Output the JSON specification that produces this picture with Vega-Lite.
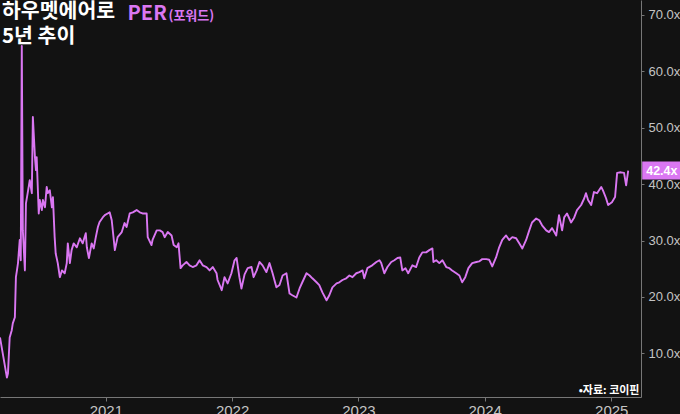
{
  "$schema": "https://vega.github.io/schema/vega-lite/v6.json",
  "width": 641,
  "height": 397,
  "autosize": {"type": "none"},
  "padding": {"left": 0, "top": 0, "right": 39, "bottom": 17},
  "background": "#121212",
  "title": {
    "text": ["하우멧에어로", "5년 추이"],
    "anchor": "start",
    "frame": "group",
    "orient": "top",
    "offset": -47,
    "dx": 2,
    "color": "#ffffff",
    "font": "Noto Sans CJK KR",
    "fontSize": 20.5,
    "fontWeight": "bold",
    "lineHeight": 25,
    "baseline": "top"
  },
  "config": {"view": {"stroke": null}, "axis": {"grid": false}},
  "datasets": {
    "per": [
      {"date": "2020-03-01", "per": 12.8},
      {"date": "2020-03-21", "per": 5.7},
      {"date": "2020-03-24", "per": 6.4},
      {"date": "2020-03-29", "per": 12.8},
      {"date": "2020-04-04", "per": 14.1},
      {"date": "2020-04-07", "per": 15.3},
      {"date": "2020-04-13", "per": 16.4},
      {"date": "2020-04-16", "per": 23.5},
      {"date": "2020-04-19", "per": 24.7},
      {"date": "2020-04-22", "per": 26.0},
      {"date": "2020-04-27", "per": 30.1},
      {"date": "2020-04-30", "per": 26.5},
      {"date": "2020-05-03", "per": 64.5},
      {"date": "2020-05-06", "per": 31.8},
      {"date": "2020-05-12", "per": 24.7},
      {"date": "2020-05-15", "per": 36.6},
      {"date": "2020-05-20", "per": 38.4},
      {"date": "2020-05-26", "per": 40.7},
      {"date": "2020-06-01", "per": 38.4},
      {"date": "2020-06-04", "per": 51.9},
      {"date": "2020-06-10", "per": 44.8},
      {"date": "2020-06-13", "per": 42.5},
      {"date": "2020-06-15", "per": 44.8},
      {"date": "2020-06-21", "per": 34.8},
      {"date": "2020-06-24", "per": 37.2},
      {"date": "2020-06-30", "per": 35.4},
      {"date": "2020-07-03", "per": 37.2},
      {"date": "2020-07-09", "per": 35.9},
      {"date": "2020-07-14", "per": 39.5},
      {"date": "2020-07-17", "per": 38.4},
      {"date": "2020-07-23", "per": 38.9},
      {"date": "2020-07-29", "per": 35.9},
      {"date": "2020-08-01", "per": 37.7},
      {"date": "2020-08-06", "per": 30.6},
      {"date": "2020-08-09", "per": 27.7},
      {"date": "2020-08-15", "per": 26.0},
      {"date": "2020-08-21", "per": 23.5},
      {"date": "2020-08-27", "per": 24.7},
      {"date": "2020-09-04", "per": 24.2},
      {"date": "2020-09-10", "per": 26.0},
      {"date": "2020-09-13", "per": 29.5},
      {"date": "2020-09-19", "per": 26.0},
      {"date": "2020-09-24", "per": 28.3},
      {"date": "2020-09-30", "per": 29.5},
      {"date": "2020-10-09", "per": 28.8},
      {"date": "2020-10-18", "per": 30.4},
      {"date": "2020-10-26", "per": 29.5},
      {"date": "2020-11-04", "per": 31.3},
      {"date": "2020-11-07", "per": 28.8},
      {"date": "2020-11-13", "per": 26.9},
      {"date": "2020-11-21", "per": 29.5},
      {"date": "2020-11-27", "per": 28.6},
      {"date": "2020-12-03", "per": 30.6},
      {"date": "2020-12-09", "per": 32.4},
      {"date": "2020-12-14", "per": 33.3},
      {"date": "2020-12-23", "per": 34.1},
      {"date": "2020-12-29", "per": 34.5},
      {"date": "2021-01-06", "per": 34.8},
      {"date": "2021-01-12", "per": 35.0},
      {"date": "2021-01-18", "per": 33.6},
      {"date": "2021-01-27", "per": 28.3},
      {"date": "2021-02-04", "per": 30.6},
      {"date": "2021-02-16", "per": 31.5},
      {"date": "2021-02-24", "per": 33.1},
      {"date": "2021-03-02", "per": 32.4},
      {"date": "2021-03-11", "per": 34.8},
      {"date": "2021-03-20", "per": 35.0},
      {"date": "2021-03-31", "per": 35.4},
      {"date": "2021-04-09", "per": 35.0},
      {"date": "2021-04-17", "per": 34.8},
      {"date": "2021-04-29", "per": 34.8},
      {"date": "2021-05-02", "per": 30.6},
      {"date": "2021-05-13", "per": 29.2},
      {"date": "2021-05-16", "per": 30.1},
      {"date": "2021-05-28", "per": 31.8},
      {"date": "2021-06-06", "per": 31.8},
      {"date": "2021-06-14", "per": 31.5},
      {"date": "2021-06-20", "per": 30.6},
      {"date": "2021-06-29", "per": 31.5},
      {"date": "2021-07-10", "per": 30.9},
      {"date": "2021-07-16", "per": 29.2},
      {"date": "2021-07-25", "per": 28.8},
      {"date": "2021-07-30", "per": 29.5},
      {"date": "2021-08-05", "per": 25.1},
      {"date": "2021-08-11", "per": 25.6},
      {"date": "2021-08-22", "per": 26.2},
      {"date": "2021-08-31", "per": 25.6},
      {"date": "2021-09-09", "per": 25.3},
      {"date": "2021-09-20", "per": 25.6},
      {"date": "2021-09-29", "per": 26.5},
      {"date": "2021-10-08", "per": 25.6},
      {"date": "2021-10-19", "per": 25.3},
      {"date": "2021-10-28", "per": 24.7},
      {"date": "2021-11-06", "per": 25.3},
      {"date": "2021-11-17", "per": 24.2},
      {"date": "2021-11-20", "per": 23.0},
      {"date": "2021-12-02", "per": 21.2},
      {"date": "2021-12-10", "per": 23.5},
      {"date": "2021-12-19", "per": 22.4},
      {"date": "2021-12-30", "per": 24.2},
      {"date": "2022-01-08", "per": 26.5},
      {"date": "2022-01-14", "per": 26.9},
      {"date": "2022-01-22", "per": 23.5},
      {"date": "2022-01-28", "per": 21.5},
      {"date": "2022-02-06", "per": 24.0},
      {"date": "2022-02-15", "per": 25.1},
      {"date": "2022-02-26", "per": 25.3},
      {"date": "2022-03-04", "per": 23.5},
      {"date": "2022-03-13", "per": 24.7},
      {"date": "2022-03-21", "per": 26.2},
      {"date": "2022-03-30", "per": 25.6},
      {"date": "2022-04-10", "per": 24.4},
      {"date": "2022-04-19", "per": 26.0},
      {"date": "2022-04-28", "per": 24.2},
      {"date": "2022-05-09", "per": 21.7},
      {"date": "2022-05-18", "per": 22.1},
      {"date": "2022-05-27", "per": 23.8},
      {"date": "2022-06-07", "per": 24.2},
      {"date": "2022-06-16", "per": 20.6},
      {"date": "2022-06-24", "per": 20.3},
      {"date": "2022-07-06", "per": 19.9},
      {"date": "2022-07-15", "per": 21.5},
      {"date": "2022-07-23", "per": 22.6},
      {"date": "2022-08-04", "per": 24.2},
      {"date": "2022-08-13", "per": 23.8},
      {"date": "2022-08-21", "per": 23.3},
      {"date": "2022-09-02", "per": 22.6},
      {"date": "2022-09-10", "per": 22.1},
      {"date": "2022-09-19", "per": 20.8},
      {"date": "2022-10-01", "per": 19.4},
      {"date": "2022-10-09", "per": 20.3},
      {"date": "2022-10-18", "per": 21.7},
      {"date": "2022-10-30", "per": 22.4},
      {"date": "2022-11-07", "per": 22.6},
      {"date": "2022-11-16", "per": 23.0},
      {"date": "2022-11-27", "per": 23.3},
      {"date": "2022-12-06", "per": 23.8},
      {"date": "2022-12-15", "per": 23.5},
      {"date": "2022-12-26", "per": 24.2},
      {"date": "2023-01-04", "per": 24.4},
      {"date": "2023-01-13", "per": 24.7},
      {"date": "2023-01-18", "per": 23.3},
      {"date": "2023-01-27", "per": 25.1},
      {"date": "2023-02-10", "per": 25.6},
      {"date": "2023-02-22", "per": 26.2},
      {"date": "2023-03-03", "per": 26.5},
      {"date": "2023-03-08", "per": 26.0},
      {"date": "2023-03-17", "per": 24.2},
      {"date": "2023-03-26", "per": 25.3},
      {"date": "2023-04-06", "per": 26.2},
      {"date": "2023-04-15", "per": 26.5},
      {"date": "2023-04-24", "per": 26.9},
      {"date": "2023-05-02", "per": 27.0},
      {"date": "2023-05-08", "per": 24.7},
      {"date": "2023-05-17", "per": 25.1},
      {"date": "2023-05-25", "per": 24.2},
      {"date": "2023-06-06", "per": 25.6},
      {"date": "2023-06-17", "per": 25.3},
      {"date": "2023-06-26", "per": 27.0},
      {"date": "2023-07-05", "per": 27.9},
      {"date": "2023-07-16", "per": 27.9},
      {"date": "2023-07-25", "per": 28.3},
      {"date": "2023-08-03", "per": 28.6},
      {"date": "2023-08-06", "per": 26.2},
      {"date": "2023-08-14", "per": 26.5},
      {"date": "2023-08-23", "per": 26.0},
      {"date": "2023-09-01", "per": 26.5},
      {"date": "2023-09-12", "per": 25.3},
      {"date": "2023-09-21", "per": 25.1},
      {"date": "2023-09-29", "per": 24.7},
      {"date": "2023-10-11", "per": 24.2},
      {"date": "2023-10-20", "per": 23.8},
      {"date": "2023-10-28", "per": 22.6},
      {"date": "2023-11-06", "per": 23.5},
      {"date": "2023-11-15", "per": 25.1},
      {"date": "2023-11-26", "per": 26.0},
      {"date": "2023-12-08", "per": 26.2},
      {"date": "2023-12-16", "per": 26.3},
      {"date": "2023-12-25", "per": 26.7},
      {"date": "2024-01-06", "per": 26.7},
      {"date": "2024-01-14", "per": 26.6},
      {"date": "2024-01-23", "per": 25.4},
      {"date": "2024-02-03", "per": 27.0},
      {"date": "2024-02-12", "per": 28.8},
      {"date": "2024-02-21", "per": 30.1},
      {"date": "2024-03-03", "per": 30.9},
      {"date": "2024-03-12", "per": 30.1},
      {"date": "2024-03-21", "per": 30.6},
      {"date": "2024-04-01", "per": 30.4},
      {"date": "2024-04-10", "per": 29.5},
      {"date": "2024-04-19", "per": 28.6},
      {"date": "2024-04-30", "per": 30.1},
      {"date": "2024-05-09", "per": 31.8},
      {"date": "2024-05-17", "per": 33.2},
      {"date": "2024-05-29", "per": 33.9},
      {"date": "2024-06-07", "per": 33.6},
      {"date": "2024-06-15", "per": 32.7},
      {"date": "2024-06-27", "per": 31.8},
      {"date": "2024-07-05", "per": 31.5},
      {"date": "2024-07-14", "per": 32.2},
      {"date": "2024-07-26", "per": 30.9},
      {"date": "2024-08-03", "per": 34.5},
      {"date": "2024-08-12", "per": 31.8},
      {"date": "2024-08-18", "per": 34.1},
      {"date": "2024-08-26", "per": 34.8},
      {"date": "2024-09-07", "per": 33.2},
      {"date": "2024-09-16", "per": 34.1},
      {"date": "2024-09-24", "per": 35.4},
      {"date": "2024-10-06", "per": 36.3},
      {"date": "2024-10-15", "per": 37.5},
      {"date": "2024-10-20", "per": 38.4},
      {"date": "2024-10-26", "per": 37.2},
      {"date": "2024-11-04", "per": 36.3},
      {"date": "2024-11-12", "per": 38.6},
      {"date": "2024-11-21", "per": 38.4},
      {"date": "2024-12-03", "per": 39.5},
      {"date": "2024-12-08", "per": 38.9},
      {"date": "2024-12-17", "per": 37.5},
      {"date": "2024-12-23", "per": 36.3},
      {"date": "2025-01-03", "per": 36.8},
      {"date": "2025-01-12", "per": 37.7},
      {"date": "2025-01-18", "per": 42.0},
      {"date": "2025-01-29", "per": 42.1},
      {"date": "2025-02-07", "per": 42.0},
      {"date": "2025-02-13", "per": 39.8},
      {"date": "2025-02-19", "per": 42.4}
    ],
    "last": [{"date": "2025-02-19", "per": 42.4, "label": "42.4x"}]
  },
  "layer": [
    {
      "data": {"name": "per"},
      "mark": {"type": "line", "color": "#da77f2", "strokeWidth": 1.9, "strokeJoin": "round"},
      "encoding": {
        "x": {
          "field": "date",
          "type": "temporal",
          "scale": {"domain": ["2020-03-01", "2025-03-28"]},
          "axis": {
            "orient": "bottom",
            "format": "%Y",
            "tickCount": {"interval": "year", "step": 1},
            "domainColor": "#777777",
            "tickColor": "#777777",
            "tickSize": 4,
            "labelColor": "#c4c4c4",
            "labelFont": "Liberation Sans",
            "labelFontSize": 15,
            "labelPadding": 2,
            "title": "•자료: 코이핀",
            "titleX": 639,
            "titleY": -4,
            "titleAlign": "right",
            "titleBaseline": "alphabetic",
            "titleColor": "#ffffff",
            "titleFont": "Noto Sans CJK KR",
            "titleFontSize": 11,
            "titleFontWeight": "bold"
          }
        },
        "y": {
          "field": "per",
          "type": "quantitative",
          "title": "PER",
          "scale": {"domain": [2.25, 72.66], "nice": false, "zero": false},
          "axis": {
            "orient": "right",
            "values": [10, 20, 30, 40, 50, 60, 70],
            "labelExpr": "format(datum.value, '.1f') + 'x'",
            "domainColor": "#777777",
            "tickColor": "#777777",
            "tickSize": 3,
            "labelPadding": 4,
            "labelColor": "#c4c4c4",
            "labelFont": "Liberation Sans",
            "labelFontSize": 13,
            "titleX": -514,
            "titleY": 19,
            "titleAngle": 0,
            "titleAlign": "left",
            "titleBaseline": "alphabetic",
            "titleColor": "#da77f2",
            "titleFont": "Noto Sans CJK KR",
            "titleFontSize": 20,
            "titleFontWeight": "bold"
          }
        }
      }
    },
    {
      "data": {"name": "last"},
      "mark": {"type": "rect", "color": "#da77f2", "xOffset": 14, "x2Offset": 53, "yOffset": -9, "y2Offset": 9},
      "encoding": {
        "x": {
          "field": "date",
          "type": "temporal",
          "scale": {"domain": ["2020-03-01", "2025-03-28"]},
          "axis": {
            "orient": "top",
            "labels": false,
            "ticks": false,
            "domain": false,
            "title": "(포워드)",
            "titleX": 168,
            "titleY": 19,
            "titleAlign": "left",
            "titleBaseline": "alphabetic",
            "titleColor": "#da77f2",
            "titleFont": "Noto Sans CJK KR",
            "titleFontSize": 13,
            "titleFontWeight": "bold"
          }
        },
        "x2": {"field": "date"},
        "y": {"field": "per", "type": "quantitative", "title": "PER", "scale": {"domain": [2.25, 72.66], "nice": false, "zero": false}},
        "y2": {"field": "per"}
      }
    },
    {
      "data": {"name": "last"},
      "mark": {"type": "text", "align": "left", "baseline": "middle", "dx": 18, "color": "#ffffff", "font": "Liberation Sans", "fontSize": 12.5, "fontWeight": "bold"},
      "encoding": {
        "x": {"field": "date", "type": "temporal", "axis": null, "scale": {"domain": ["2020-03-01", "2025-03-28"]}},
        "y": {"field": "per", "type": "quantitative", "title": "PER", "scale": {"domain": [2.25, 72.66], "nice": false, "zero": false}},
        "text": {"field": "label"}
      }
    }
  ],
  "resolve": {"axis": {"x": "independent"}}
}
